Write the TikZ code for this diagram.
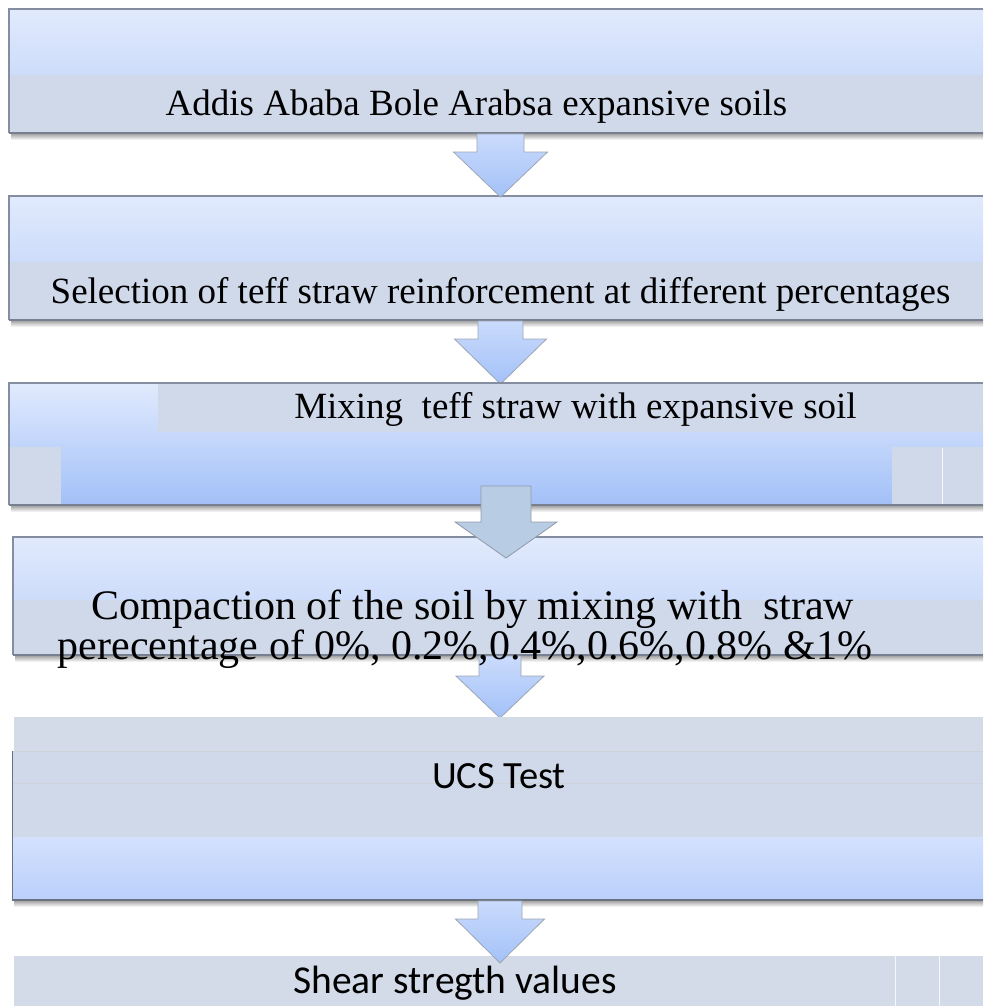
\documentclass[tikz,border=0pt]{standalone}
\usepackage{fontspec}
\setmainfont{Liberation Serif}
\newfontfamily\calib{Carlito}
\definecolor{topA}{HTML}{E1EAFD}
\definecolor{topB}{HTML}{CDDCFA}
\definecolor{band}{HTML}{D0D9EA}
\definecolor{bandB}{HTML}{D3DBE9}
\definecolor{blueB}{HTML}{A2C0F8}
\definecolor{ucsA}{HTML}{D3E1FD}
\definecolor{ucsB}{HTML}{BACFFB}
\definecolor{arrA}{HTML}{CADBFC}
\definecolor{arrB}{HTML}{A3C1F8}
\definecolor{arrC}{HTML}{B8CCE4}
\definecolor{edge}{HTML}{858EA0}
\tikzset{
  border/.style={draw=edge, line width=1.2pt},
  shadowline/.style={top color=black!40, bottom color=white, draw=none},
  serif/.style={inner sep=0pt, anchor=base, font=\fontsize{37}{44}\selectfont},
  serifbig/.style={inner sep=0pt, anchor=base, font=\fontsize{42}{46}\selectfont},
  sans/.style={inner sep=0pt, anchor=base, font=\calib\fontsize{38.5}{44}\selectfont},
  sansb/.style={inner sep=0pt, anchor=base, font=\calib\fontsize{39.5}{44}\selectfont},
  bluearrow/.style={top color=arrA, bottom color=arrB, draw=edge!80, line width=0.8pt},
  greyarrow/.style={fill=arrC, draw=edge!90, line width=0.8pt}
}
\newcommand\barrow[7]{%
  \path[#7] ({#1-#5},#2) -- ({#1+#5},#2) -- ({#1+#5},#3) -- ({#1+#6},#3) -- (#1,#4)
    -- ({#1-#6},#3) -- ({#1-#5},#3) -- cycle;}
\begin{document}
\begin{tikzpicture}[x=1pt,y=-1pt]
\useasboundingbox (0,0) rectangle (983,1006);
\fill[white] (0,0) rectangle (983,1006);

% ---------- Box 1
\shade[shadowline] (11,133) rectangle (983,140);
\shade[top color=topA, bottom color=topB] (9,9) rectangle (983,75);
\fill[band] (9,75) rectangle (983,133);
\draw[border] (9,133) -- (9,9) -- (983,9);
\draw[border, draw=edge!90!black] (9,133) -- (983,133);
\node[serif] (b1) at (476.5,116) {Addis Ababa Bole Arabsa expansive soils};

% ---------- Box 2
\shade[shadowline] (11,320) rectangle (983,327);
\shade[top color=topA, bottom color=topB] (9,196) rectangle (983,262);
\fill[band] (9,262) rectangle (983,320);
\draw[border] (9,320) -- (9,196) -- (983,196);
\draw[border, draw=edge!90!black] (9,320) -- (983,320);
\node[serif] (b2) at (500.5,303) {Selection of teff straw reinforcement at different percentages};

% arrows 1 and 2
\barrow{500.5}{134}{152}{197}{23.5}{47}{bluearrow}
\barrow{500.5}{321}{339}{384}{22.5}{46}{bluearrow}

% ---------- Box 3
\shade[shadowline] (11,505) rectangle (983,512);
\shade[top color=topA, bottom color=blueB] (9,383) rectangle (983,505);
\fill[band] (158,383) rectangle (983,432);
\fill[band] (9,447) rectangle (61,505);
\fill[band] (892,447) rectangle (983,505);
\draw[white!85!band, line width=0.8pt] (942,448) -- (942,505);
\draw[border] (9,505) -- (9,383) -- (983,383);
\draw[border, draw=edge!90!black] (9,505) -- (983,505);
\node[serif] (b3) at (575.5,418) {Mixing\ \ teff straw with expansive soil};

% ---------- Box 4
\shade[shadowline] (15,655) rectangle (983,662);
\shade[top color=topA, bottom color=topB] (13,537) rectangle (983,600);
\fill[band] (13,600) rectangle (983,655);
\draw[border] (13,655) -- (13,537) -- (983,537);
\draw[border, draw=edge!90!black] (13,655) -- (983,655);

% arrow 3 (grey) over boxes 3 and 4
\barrow{506}{486}{522}{558}{25}{51}{greyarrow}

% arrow 4 (behind text of box 4)
\barrow{500}{656}{676}{718}{21}{44}{bluearrow}
\node[serifbig] (b4) at (472.5,619) {Compaction of the soil by mixing with\ \ straw};
\node[serifbig] (b4b) at (465,659) {perecentage of 0\%, 0.2\%,0.4\%,0.6\%,0.8\% \&1\%};

% ---------- Box 5
\fill[bandB] (14,717) rectangle (983,751);
\shade[shadowline] (14,900) rectangle (983,907);
\fill[band] (13,751) rectangle (983,837);
\shade[top color=ucsA, bottom color=ucsB] (13,837) rectangle (983,900);
\draw[edge!40, line width=0.8pt] (13,751) -- (983,751);
\draw[edge!40, line width=0.8pt] (13,783) -- (983,783);
\draw[border, draw=edge!80!black] (12.7,751) -- (12.7,900) -- (983,900);
\node[sans] (b5) at (499,788) {UCS Test};

% ---------- Box 6
\fill[bandB] (14,956) rectangle (983,1006);
\draw[white!80!band, line width=0.8pt] (895,956) -- (895,1006);
\draw[white!80!band, line width=0.8pt] (939,956) -- (939,1006);
\node[sansb] (b6) at (455,993) {Shear stregth values};

% arrow 5
\barrow{500}{901}{919}{963}{22}{44.5}{bluearrow}
\end{tikzpicture}
\end{document}
